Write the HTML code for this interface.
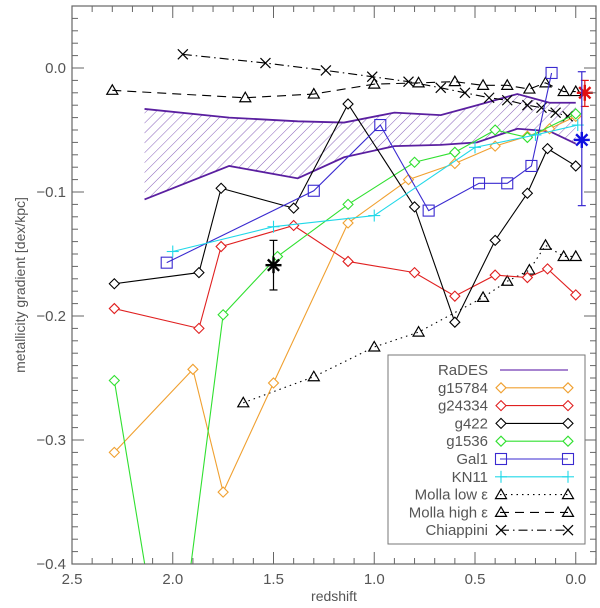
<!DOCTYPE html>
<html><head><meta charset="utf-8"><style>
html,body{margin:0;padding:0;background:#fff;overflow:hidden;width:600px;height:608px;}
svg{display:block;font-family:"Liberation Sans",sans-serif;}
</style></head><body>
<svg id="chart" width="600" height="608" viewBox="0 0 600 608" xmlns="http://www.w3.org/2000/svg">
<defs>
<clipPath id="plotclip"><rect x="72" y="6" width="524" height="558"/></clipPath>
<pattern id="hatch" patternUnits="userSpaceOnUse" width="7" height="7" patternTransform="rotate(45)">
<line x1="0" y1="0" x2="0" y2="7" stroke="#6a3aaa" stroke-width="0.8"/></pattern>
</defs>
<g id="plot" clip-path="url(#plotclip)"></g>
<g id="axes"></g>
<g id="legend"></g>
</svg>
<script>
// ---- data ----
const radesZ = [2.14, 1.72, 1.38, 1.15, 0.90, 0.67, 0.49, 0.29, 0.13, 0.0];
const radesUpper = [-0.033, -0.040, -0.043, -0.044, -0.036, -0.038, -0.030, -0.021, -0.028, -0.028];
const radesLower = [-0.106, -0.079, -0.089, -0.072, -0.063, -0.062, -0.060, -0.049, -0.051, -0.061];
const g15784Z = [2.29, 1.90, 1.75, 1.50, 1.13, 0.83, 0.60, 0.40, 0.24, 0.13, 0.0];
const g15784V = [-0.310, -0.243, -0.342, -0.254, -0.125, -0.090, -0.077, -0.063, -0.055, -0.049, -0.039];
const g24334Z = [2.29, 1.87, 1.76, 1.40, 1.13, 0.80, 0.60, 0.40, 0.24, 0.14, 0.0];
const g24334V = [-0.194, -0.210, -0.144, -0.127, -0.156, -0.165, -0.184, -0.167, -0.169, -0.162, -0.183];
const g422Z = [2.29, 1.87, 1.76, 1.40, 1.13, 0.80, 0.60, 0.40, 0.24, 0.14, 0.0];
const g422V = [-0.174, -0.165, -0.097, -0.113, -0.029, -0.112, -0.205, -0.139, -0.101, -0.065, -0.079];
const g1536Z = [2.29, 2.01, 1.75, 1.48, 1.13, 0.80, 0.60, 0.40, 0.24, 0.0];
const g1536V = [-0.252, -0.527, -0.199, -0.152, -0.110, -0.076, -0.068, -0.050, -0.056, -0.037];
const gal1Z = [2.03, 1.30, 0.97, 0.73, 0.48, 0.34, 0.22, 0.12];
const gal1V = [-0.157, -0.099, -0.046, -0.115, -0.093, -0.093, -0.079, -0.004];
const kn11Z = [2.0, 1.5, 1.0, 0.5, 0.2, -0.01];
const kn11V = [-0.148, -0.128, -0.119, -0.064, -0.054, -0.046];
const mollaLowZ = [1.65, 1.30, 1.0, 0.78, 0.46, 0.34, 0.23, 0.15, 0.06, 0.0];
const mollaLowV = [-0.270, -0.249, -0.225, -0.213, -0.185, -0.172, -0.163, -0.143, -0.152, -0.152];
const mollaHighZ = [2.30, 1.64, 1.30, 1.0, 0.78, 0.60, 0.46, 0.34, 0.23, 0.15, 0.06, 0.0];
const mollaHighV = [-0.018, -0.024, -0.021, -0.013, -0.012, -0.011, -0.014, -0.014, -0.017, -0.012, -0.019, -0.019];
const chiapZ = [1.95, 1.54, 1.24, 1.01, 0.83, 0.67, 0.55, 0.43, 0.34, 0.24, 0.17, 0.10, 0.04];
const chiapV = [0.011, 0.004, -0.002, -0.007, -0.011, -0.016, -0.020, -0.024, -0.026, -0.030, -0.032, -0.036, -0.039];
const obsZ = [1.5, -0.045, -0.03];
const obsV = [-0.159, -0.020, -0.058];
const obsErrLo = [-0.179, -0.031, -0.111];
const obsErrHi = [-0.139, -0.010, -0.003];
const xTicks = [2.5, 2.0, 1.5, 1.0, 0.5, 0.0];
const xTickLabels = ["2.5", "2.0", "1.5", "1.0", "0.5", "0.0"];
const yTicks = [0.0, -0.1, -0.2, -0.3, -0.4];
const yTickLabels = ["0.0", "\u22120.1", "\u22120.2", "\u22120.3", "\u22120.4"];

// ---- axis functions ----
const X0 = 72, X1 = 596, Y0 = 6, Y1 = 564;
function xs(z){ return X0 + (2.5 - z) * 201.5; }
function ys(v){ return 68 - v * 1240; }

const NS = "http://www.w3.org/2000/svg";
function mk(tag, attrs, parent){
  const e = document.createElementNS(NS, tag);
  for (const k in attrs) e.setAttribute(k, attrs[k]);
  parent.appendChild(e);
  return e;
}
const plot = document.getElementById('plot');
const axes = document.getElementById('axes');
const legend = document.getElementById('legend');

// Liang-Barsky segment clip to the plot box
function clipSeg(x1,y1,x2,y2){
  let t0=0,t1=1; const dx=x2-x1, dy=y2-y1;
  const p=[-dx,dx,-dy,dy], q=[x1-X0,X1-x1,y1-Y0,Y1-y1];
  for(let i=0;i<4;i++){
    if(p[i]===0){ if(q[i]<0) return null; }
    else { const r=q[i]/p[i]; if(p[i]<0){ if(r>t1) return null; if(r>t0) t0=r; } else { if(r<t0) return null; if(r<t1) t1=r; } }
  }
  return [x1+t0*dx, y1+t0*dy, x1+t1*dx, y1+t1*dy];
}
function clippedPaths(pts){
  let d = '', last = null;
  for (let i=0;i<pts.length-1;i++){
    const s = clipSeg(pts[i][0],pts[i][1],pts[i+1][0],pts[i+1][1]);
    if(!s){ last=null; continue; }
    if(!last || Math.abs(last[0]-s[0])>0.01 || Math.abs(last[1]-s[1])>0.01) d += `M${s[0].toFixed(2)},${s[1].toFixed(2)}`;
    d += `L${s[2].toFixed(2)},${s[3].toFixed(2)}`;
    last=[s[2],s[3]];
  }
  return d;
}
function inside(x,y){ return x>=X0-0.5 && x<=X1+0.5 && y>=Y0-0.5 && y<=Y1+0.5; }

// RaDES band
let bandPts = radesZ.map((z,i)=>xs(z)+","+ys(radesUpper[i]));
bandPts = bandPts.concat(radesZ.slice().reverse().map((z,i)=>xs(z)+","+ys(radesLower[radesZ.length-1-i])));
const band = mk('polygon', {points: bandPts.join(' '), fill: 'url(#hatch)', stroke: 'none'}, plot);


const up = mk('polyline', {points: radesZ.map((z,i)=>xs(z)+","+ys(radesUpper[i])).join(' '), fill:'none', stroke:'#5a1fa0', 'stroke-width':1.8}, plot);


const lo = mk('polyline', {points: radesZ.map((z,i)=>xs(z)+","+ys(radesLower[i])).join(' '), fill:'none', stroke:'#5a1fa0', 'stroke-width':1.8}, plot);



function marker(type, cx, cy, color, parent){
  const g = mk('g', {stroke: color, fill: 'none', 'stroke-width': 1.1}, parent);
  if (type === 'diamond') mk('polygon', {points: `${cx},${cy-5} ${cx+5},${cy} ${cx},${cy+5} ${cx-5},${cy}`, fill:'#fff'}, g);
  else if (type === 'square') mk('rect', {x: cx-5.5, y: cy-5.5, width: 11, height: 11}, g);
  else if (type === 'triangle') mk('polygon', {points: `${cx},${cy-5.5} ${cx+5.5},${cy+4} ${cx-5.5},${cy+4}`, 'stroke-width':1.2}, g);
  else if (type === 'cross') { mk('line',{x1:cx-5,y1:cy-5,x2:cx+5,y2:cy+5,'stroke-width':1.2},g); mk('line',{x1:cx-5,y1:cy+5,x2:cx+5,y2:cy-5,'stroke-width':1.2},g); }
  else if (type === 'plus') { mk('line',{x1:cx-6,y1:cy,x2:cx+6,y2:cy},g); mk('line',{x1:cx,y1:cy-6,x2:cx,y2:cy+6},g); }
  return g;
}

function series(name, zs, vs, color, type, dash){
  const g = mk('g', {}, plot);
  
  
  const pts = zs.map((z,i)=>[xs(z), ys(vs[i])]);
  const attrs = {d: clippedPaths(pts), fill:'none', stroke: color, 'stroke-width': 1.1};
  if (dash) attrs['stroke-dasharray'] = dash;
  const l = mk('path', attrs, g);
  
  
  pts.forEach(p=>{
    if (!inside(p[0],p[1])) return;
    const m = marker(type, p[0], p[1], color, g);
    
    
  });
}
series('molla-low', mollaLowZ, mollaLowV, '#000', 'triangle', '1.5,4');
series('molla-high', mollaHighZ, mollaHighV, '#000', 'triangle', '9,6');
series('chiappini', chiapZ, chiapV, '#000', 'cross', '9,4,1.5,4');
series('g15784', g15784Z, g15784V, '#f0a030', 'diamond');
series('g24334', g24334Z, g24334V, '#e02020', 'diamond');
series('g1536', g1536Z, g1536V, '#30e030', 'diamond');
series('g422', g422Z, g422V, '#000', 'diamond');
series('gal1', gal1Z, gal1V, '#3a2ad0', 'square');
series('kn11', kn11Z, kn11V, '#20d8e8', 'plus');

// observations (stars with error bars)
const obsColors = ['#000', '#e01010', '#1010e0'];
const obsBarColors = ['#000', '#e01010', '#3a2ad0'];
obsZ.forEach((z,i)=>{
  const g = mk('g', {}, plot);
  
  
  const cx = xs(z), cy = ys(obsV[i]);
  mk('line', {x1:cx, y1:ys(obsErrLo[i]), x2:cx, y2:ys(obsErrHi[i]), stroke: obsBarColors[i], 'stroke-width':1.2}, g);
  mk('line', {x1:cx-4, y1:ys(obsErrLo[i]), x2:cx+4, y2:ys(obsErrLo[i]), stroke: obsBarColors[i], 'stroke-width':1.2}, g);
  mk('line', {x1:cx-4, y1:ys(obsErrHi[i]), x2:cx+4, y2:ys(obsErrHi[i]), stroke: obsBarColors[i], 'stroke-width':1.2}, g);
  for (let a=0; a<4; a++){
    const ang = a*Math.PI/4, r = 8;
    mk('line', {x1: cx - r*Math.cos(ang), y1: cy - r*Math.sin(ang), x2: cx + r*Math.cos(ang), y2: cy + r*Math.sin(ang), stroke: obsColors[i], 'stroke-width': 2.4}, g);
  }
});

// axes frame
const AX = '#666';
const frame = mk('rect', {x:X0, y:Y0, width:X1-X0, height:Y1-Y0, fill:'none', stroke:AX, 'stroke-width':1.2}, axes);


for (let k=0; k<=26; k++){
  const z = 2.5 - k*0.1, x = xs(z);
  const major = (k % 5 === 0);
  const len = major ? 12 : 6;
  mk('line', {x1:x, y1:Y1, x2:x, y2:Y1-len, stroke:AX, 'stroke-width':1}, axes);
  mk('line', {x1:x, y1:Y0, x2:x, y2:Y0+len, stroke:AX, 'stroke-width':1}, axes);
}
for (let k=-5; k<=40; k++){
  const v = -k*0.01, y = ys(v);
  if (y < Y0 || y > Y1) continue;
  const major = (k % 10 === 0);
  const len = major ? 12 : 6;
  mk('line', {x1:X0, y1:y, x2:X0+len, y2:y, stroke:AX, 'stroke-width':1}, axes);
  mk('line', {x1:X1, y1:y, x2:X1-len, y2:y, stroke:AX, 'stroke-width':1}, axes);
}
xTicks.forEach((z,i)=>{
  const t = mk('text', {x: xs(z), y: 584, 'text-anchor':'middle', 'font-size':15, fill:'#555'}, axes);
  t.textContent = xTickLabels[i];
  
  
});
yTicks.forEach((v,i)=>{
  const t = mk('text', {x: 66, y: ys(v)+5, 'text-anchor':'end', 'font-size':15, fill:'#555'}, axes);
  t.textContent = yTickLabels[i];
  
  
});
const xt = mk('text', {x: 334, y: 601, 'text-anchor':'middle', 'font-size':14, fill:'#555'}, axes);
xt.textContent = 'redshift';


const yt = mk('text', {x: 0, y: 0, 'text-anchor':'middle', 'font-size':14, fill:'#555', transform:'translate(25,285) rotate(-90)'}, axes);
yt.textContent = 'metallicity gradient [dex/kpc]';



// legend
const lb = mk('rect', {x:388, y:355, width:197, height:189, fill:'#fff', stroke:'#777', 'stroke-width':1}, legend);


const legNames = ['RaDES','g15784','g24334','g422','g1536','Gal1','KN11','Molla low \u03b5','Molla high \u03b5','Chiappini'];
const legColors = ['#8a5cc0','#f0a030','#e02020','#000','#30e030','#3a2ad0','#20d8e8','#000','#000','#000'];
const legMarks = [null,'diamond','diamond','diamond','diamond','square','plus','triangle','triangle','cross'];
const legDash = [null,null,null,null,null,null,null,'1.5,4','9,6','9,4,1.5,4'];
legNames.forEach((n,i)=>{
  const y = 370 + i*17.8;
  const g = mk('g', {}, legend);
  
  
  const t = mk('text', {x:488, y:y+5, 'text-anchor':'end', 'font-size':15, fill:'#555'}, g);
  t.textContent = n;
  const la = {x1: 500, y1:y, x2: 568, y2:y, stroke:legColors[i], 'stroke-width': i===0?1.5:1.1};
  if (legDash[i]) la['stroke-dasharray'] = legDash[i];
  mk('line', la, g);
  if (legMarks[i]){ marker(legMarks[i], 501, y, legColors[i], g); marker(legMarks[i], 568, y, legColors[i], g); }
});
</script>
</body></html>
